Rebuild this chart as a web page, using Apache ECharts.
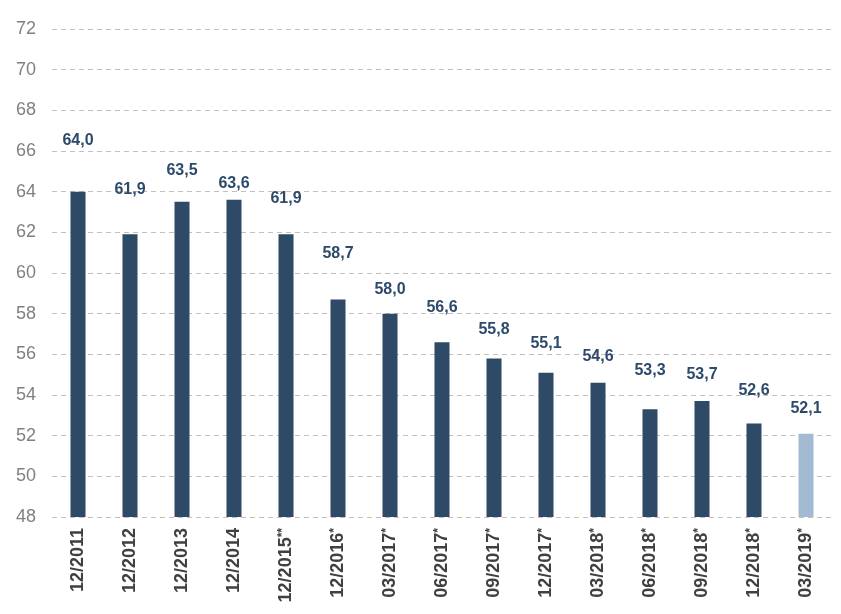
<!DOCTYPE html>
<html><head><meta charset="utf-8">
<script src="https://cdn.jsdelivr.net/npm/echarts@6/dist/echarts.min.js"></script>
<style>html,body{margin:0;padding:0;background:#fff}#c{width:841px;height:614px}</style>
</head><body><div id="c"></div>
<script>
var categories = ['12/2011','12/2012','12/2013','12/2014','12/2015**','12/2016*','03/2017*','06/2017*','09/2017*','12/2017*','03/2018*','06/2018*','09/2018*','12/2018*','03/2019*'];
var values = [64.0, 61.9, 63.5, 63.6, 61.9, 58.7, 58.0, 56.6, 55.8, 55.1, 54.6, 53.3, 53.7, 52.6, 52.1];
var highlightIndex = 14;
// layout: gap (px) between bar top and label centre, as in the reference
var labelGaps = [52, 46, 32, 17, 37, 47, 25, 36, 30, 30, 27, 40, 28, 34, 26];

var DARK = '#2E4A66', LIGHT = '#A2BBD3';
var chart = echarts.init(document.getElementById('c'));
chart.setOption({
  animation: false,
  grid: {left: 52, right: 9, top: 29, bottom: 97},
  xAxis: {
    type: 'category', data: categories,
    axisLine: {show: false}, axisTick: {show: false},
    axisLabel: {
      rotate: 90, margin: 11, interval: 0,
      formatter: function (v) {
        var m = v.match(/^(.*?)(\**)$/);
        return m[2] ? '{a|' + m[1] + '}{s|' + m[2] + '}' : '{a|' + v + '}';
      },
      rich: {
        a: {fontFamily: 'Liberation Sans, Arial', fontWeight: 'bold', fontSize: 18, color: '#404040'},
        s: {fontFamily: 'Liberation Sans, Arial', fontWeight: 'bold', fontSize: 12, color: '#404040', verticalAlign: 'top'}
      }
    }
  },
  yAxis: {
    type: 'value', min: 48, max: 72, interval: 2,
    axisLine: {show: false}, axisTick: {show: false},
    axisLabel: {fontFamily: 'Liberation Sans, Arial', fontSize: 18, color: '#808080', margin: 16},
    splitLine: {lineStyle: {type: [5, 4], color: '#C0C0C0', width: 1}}
  },
  series: [{
    type: 'bar', barWidth: 15,
    data: values.map(function (v, i) {
      return {
        value: v,
        itemStyle: {color: i === highlightIndex ? LIGHT : DARK},
        label: {distance: labelGaps[i] - 9}
      };
    }),
    label: {
      show: true, position: 'top',
      fontFamily: 'Liberation Sans, Arial', fontWeight: 'bold', fontSize: 16, color: '#2E4A6B',
      formatter: function (p) { return p.value.toFixed(1).replace('.', ','); }
    }
  }]
});
</script></body></html>
